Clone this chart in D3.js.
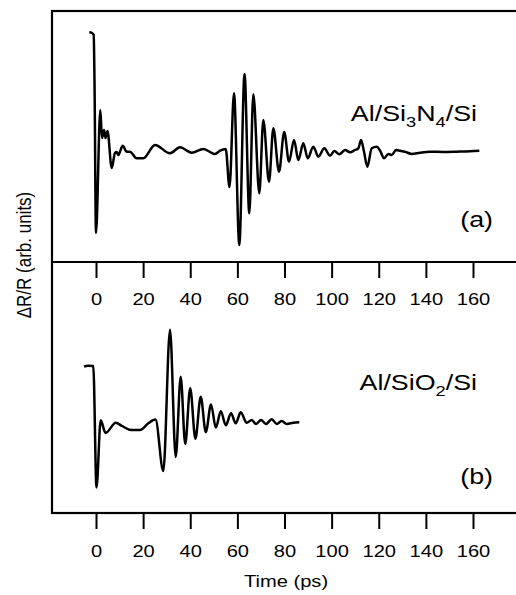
<!DOCTYPE html>
<html><head><meta charset="utf-8">
<script src="https://cdn.jsdelivr.net/npm/d3@7"></script>
<style>body{margin:0;background:#fff}svg{display:block}text{font-family:"Liberation Sans",Arial,Helvetica,sans-serif;fill:#000}</style>
</head><body><div id="c"></div>
<script>
// Panel (a): Al/Si3N4/Si
const timeA = [-2.84,-1.70,-0.98,-0.64,0,1.83,2.55,3.40,4.03,4.88,6.66,8.06,8.79,9.47,11.33,13.03,14.43,17.27,20.08,25.04,31.41,35.65,40.62,45.54,50.51,52.63,55.05,56.66,58.57,60.82,63.03,65.07,66.77,69.31,71.01,73.43,75.26,77.67,79.88,81.92,84.04,85.87,87.99,89.86,92.23,94.36,96.90,99.32,101.15,103.27,105.69,107.81,109.93,111.33,112.48,113.75,115.15,117.02,119.14,120.54,122.24,124.07,125.51,127.33,129.03,131.15,134.0,137.52,141.77,147.41,153.1,158.74,162.69];
const signalA = [1.187,1.18,1.16,0.71,-0.82,0.41,0.13,0.21,0.13,0.20,-0.17,-0.02,-0.01,-0.04,0.053,-0.007,-0.007,-0.073,-0.073,0.06,-0.023,0.037,-0.017,0.02,-0.03,0.003,0.02,-0.36,0.577,-0.94,0.77,-0.623,0.567,-0.423,0.31,-0.307,0.227,-0.207,0.19,-0.107,0.11,-0.09,0.077,-0.073,0.043,-0.057,0.027,-0.047,0,-0.033,0.01,-0.013,0.01,0.027,0.11,-0.007,-0.157,0.027,0.043,0.005,-0.073,-0.03,-0.04,0.01,0.003,-0.007,-0.03,-0.017,-0.007,-0.01,-0.007,-0.003,0.003];
// Panel (b): Al/SiO2/Si
const timeB = [-5.09,-3.40,-1.15,0.21,1.99,4.03,8.40,11.04,14.86,18.68,22.2,25.25,28.57,31.41,33.83,35.95,37.86,39.98,42.19,44.44,46.6,48.81,50.85,52.97,55.09,57.3,59.3,61.42,63.96,66.09,67.91,70.03,72.16,74.58,76.7,78.82,80.94,83.74,86.29];
const signalB = [0.563,0.573,0.57,-0.645,0.027,-0.10,0.002,-0.03,-0.07,-0.07,-0.003,0.034,-0.48,0.933,-0.34,0.463,-0.21,0.347,-0.158,0.263,-0.092,0.185,-0.045,0.117,-0.023,0.097,-0.003,0.107,0.003,0.03,-0.01,0.03,-0.01,0.037,-0.01,0.02,-0.01,0.003,0.007];
const xTicks = [0,20,40,60,80,100,120,140,160];
const labelA = ["Al/Si", "3", "N", "4", "/Si"];
const labelB = ["Al/SiO", "2", "/Si"];

const W = 516, H = 595;
const fLeft = 52, fRight = 518, fTop = 11, fMid = 262, fBottom = 513;
const sx = 1.22; // horizontal stretch of lettering in the original figure
const svg = d3.select("#c").append("svg").attr("width", W).attr("height", H);

const x = d3.scaleLinear().domain([0,160]).range([96,473]);
const yA = d3.scaleLinear().domain([-1.11,1.40]).range([fMid, fTop]);
const yB = d3.scaleLinear().domain([-0.90,1.61]).range([fBottom, fMid]);

// frame
svg.append("rect").attr("x",fLeft).attr("y",fTop).attr("width",fRight-fLeft).attr("height",fBottom-fTop)
  .attr("fill","none").attr("stroke","#000").attr("stroke-width",2.2);
svg.append("line").attr("x1",fLeft).attr("x2",fRight).attr("y1",fMid).attr("y2",fMid)
  .attr("stroke","#000").attr("stroke-width",2.2);

function axis(y0, pad){
  const g = svg.append("g").attr("transform",`translate(0,${y0})`)
    .call(d3.axisBottom(x).tickValues(xTicks).tickSize(16).tickPadding(pad).tickFormat(d3.format("d")));
  g.select(".domain").remove();
  g.selectAll(".tick line").attr("stroke","#000").attr("stroke-width",2);
  g.selectAll(".tick text").attr("font-size",16.5).attr("font-family","Liberation Sans, Arial, sans-serif")
    .attr("fill","#000").attr("transform",`scale(${sx},1)`);
}
axis(fMid, 15);
axis(fBottom, 16);

const lineA = d3.line().x((d,i)=>x(timeA[i])).y(d=>yA(d)).curve(d3.curveMonotoneX);
const lineB = d3.line().x((d,i)=>x(timeB[i])).y(d=>yB(d)).curve(d3.curveMonotoneX);
svg.append("path").attr("d",lineA(signalA)).attr("fill","none").attr("stroke","#000").attr("stroke-width",2.5).attr("stroke-linejoin","round");
svg.append("path").attr("d",lineB(signalB)).attr("fill","none").attr("stroke","#000").attr("stroke-width",2.5).attr("stroke-linejoin","round");

function stretched(xp, yp, anchor, fs){
  return svg.append("text").attr("transform",`translate(${xp},${yp}) scale(${sx},1)`)
    .attr("text-anchor",anchor).attr("font-size",fs);
}
function label(parts, xr, yb, fs){
  const t = stretched(xr, yb, "end", fs);
  parts.forEach((p,i)=>{
    const sub = i % 2 === 1;
    t.append("tspan").text(p).attr("font-size", sub ? fs*0.68 : fs)
      .attr("dy", sub ? fs*0.28 : (i>0 ? -fs*0.28 : 0));
  });
}
label(labelA, 477, 121, 22);
label(labelB, 477, 390, 22);
stretched(493, 227, "end", 22).text("(a)");
stretched(493, 484, "end", 22).text("(b)");

stretched(286, 587, "middle", 16.5).text("Time (ps)");
svg.append("text").attr("transform",`translate(31,255) scale(${sx},1) rotate(-90)`)
  .attr("text-anchor","middle").attr("font-size",17).text("ΔR/R (arb. units)");
</script></body></html>
